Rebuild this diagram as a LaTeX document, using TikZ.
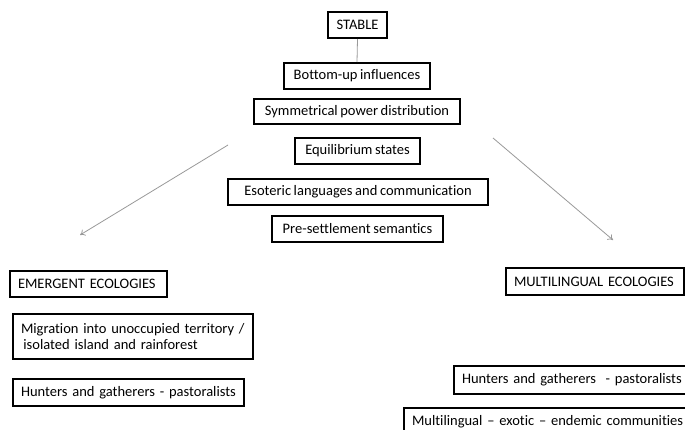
\documentclass[tikz,border=0pt]{standalone}
\usepackage{fontspec}
\setmainfont[Ligatures=NoCommon, WordSpace=0.8]{Carlito}
\usetikzlibrary{arrows.meta}
\tikzset{
  box/.style={draw=black, line width=2pt, rectangle, inner xsep=0pt, inner ysep=0pt,
    font=\fontsize{14.5}{16.5}\selectfont, anchor=north west, fill=white},
  lbox/.style={box, align=left, inner xsep=8pt},
  conn/.style={draw=gray!80, line width=0.8pt},
  arr/.style={conn, -{To[length=5pt,width=7pt]}}
}
\begin{document}
\begin{tikzpicture}[x=1pt,y=-1pt]
\useasboundingbox (0,0) rectangle (685,429);
\clip (0,0) rectangle (685,429);
\fill[white] (0,0) rectangle (685,429);
% top column
\node[box, minimum width=59, minimum height=26] (stable) at (327,11) {STABLE};
\node[box, minimum width=146, minimum height=26] (bottom) at (283,62) {Bottom-up influences};
\node[box, minimum width=206, minimum height=25] (sym) at (253,98) {Symmetrical power distribution};
\node[box, minimum width=125, minimum height=26] (equi) at (294,137) {Equilibrium states};
\node[box, minimum width=260, minimum height=26] (eso) at (227,178) {Esoteric languages and communication};
\node[box, minimum width=171, minimum height=26] (pre) at (271,215) {Pre-settlement semantics};
\draw[conn] (stable.south) -- (bottom.north);
% left column
\node[lbox, minimum width=157, minimum height=26, text width=141] (emer) at (9,270) {\mbox{EMERGENT ECOLOGIES}};
\node[lbox, minimum width=240, minimum height=45, text width=224] (migr) at (12,313) {\mbox{Migration into unoccupied territory /}\\ \mbox{\,isolated island and rainforest}};
\node[lbox, minimum width=231, minimum height=27, text width=215] (huntl) at (12,378) {\mbox{Hunters and gatherers - pastoralists}};
% right column
\node[lbox, minimum width=178, minimum height=27, text width=162] (multi) at (505,267) {\mbox{MULTILINGUAL ECOLOGIES}};
\node[lbox, minimum width=260, minimum height=28, text width=244] (huntr) at (453,365) {\mbox{Hunters and gatherers \ - pastoralists}};
\node[lbox, minimum width=300, minimum height=27, text width=284] (mcomm) at (403,407) {\mbox{Multilingual -- exotic -- endemic communities}};
% arrows
\coordinate (la) at (228,145);
\coordinate (lb) at (80,235);
\coordinate (ra) at (493,138);
\coordinate (rb) at (613,240);
\draw[arr] (la) -- (lb);
\draw[arr] (ra) -- (rb);
\end{tikzpicture}
\end{document}
